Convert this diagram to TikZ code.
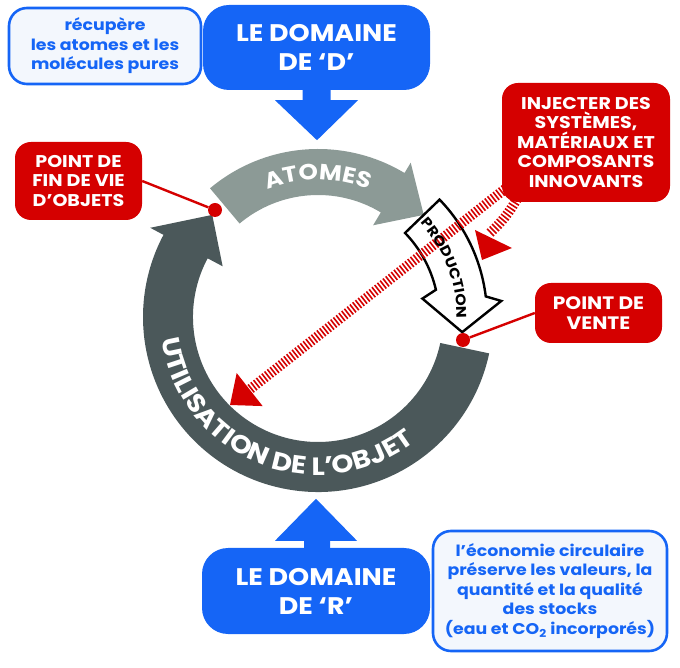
\documentclass[tikz,border=0pt]{standalone}
\usepackage{fontspec}
\setmainfont{Poppins}[FakeStretch=1.12]
\usetikzlibrary{arrows.meta,decorations.text}
\definecolor{domblue}{RGB}{21,101,246}
\definecolor{notefill}{RGB}{243,247,253}
\definecolor{injred}{RGB}{213,0,0}
\definecolor{ringlight}{RGB}{140,154,150}
\definecolor{ringdark}{RGB}{75,88,90}

\begin{document}
\begin{tikzpicture}[x=1pt, y=1pt,
  bluebox/.style={fill=domblue, rounded corners=26pt, align=center, text=white, font=\fontsize{24}{29}\selectfont\bfseries, inner sep=0pt},
  notebox/.style={draw=domblue, line width=2.6pt, fill=notefill, rounded corners=18pt, align=center, text=domblue, font=\fontsize{15.5}{19.5}\selectfont\bfseries, inner sep=0pt},
  redbox/.style={fill=injred, rounded corners=16pt, align=center, text=white, font=\fontsize{17}{19.5}\selectfont\bfseries, inner sep=0pt},
  reddot/.style={circle, fill=injred, minimum size=14pt, inner sep=0pt},
  redlink/.style={draw=injred, line width=2.4pt},
  hatch/.style={draw=injred, line width=10pt, dash pattern=on 1.6pt off 1.9pt},
  ringtext/.style={decorate, decoration={text along path, text align=center, text={#1}}}]

\useasboundingbox (0,0) rectangle (680,667);
\coordinate (C) at (318,350);

% the cycle
\begin{scope}[shift={(C)}]
\fill[ringdark] (-12:175) arc[start angle=-12, end angle=-208, radius=175]
  -- (-208:190) -- (-224:147) -- (-208:108) -- (-208:125)
  arc[start angle=-208, end angle=-12, radius=125] -- cycle;
\fill[ringlight] (130:168) arc[start angle=130, end angle=59, radius=168]
  -- (59:180) -- (44:147) -- (59:107) -- (59:122)
  arc[start angle=59, end angle=130, radius=122] -- cycle;
\filldraw[fill=white, draw=black, line width=2.4pt] (44:169) arc[start angle=44, end angle=7, radius=169]
  -- (5:184) -- (-6:145) -- (10:106) -- (13:121)
  arc[start angle=13, end angle=44, radius=121] -- cycle;
\path[ringtext={|\fontsize{22}{22}\selectfont\bfseries\color{white}|ATOMES}] (130:137) arc[start angle=130, end angle=50, radius=137];
\path[ringtext={|\fontsize{25}{25}\selectfont\bfseries\color{white}|UTILISATION DE L'OBJET}] (150:158) arc[start angle=150, end angle=346, radius=158];
\end{scope}

% boxes
\node[notebox, minimum width=192pt, minimum height=76pt] (recup) at (105,621) {récupère\\les atomes et les\\molécules pures};
\node[bluebox, minimum width=227pt, minimum height=85pt] (domD) at (316.5,619.5) {LE DOMAINE\\DE ‘D’};
\node[bluebox, minimum width=228pt, minimum height=86pt] (domR) at (316,76) {LE DOMAINE\\DE ‘R’};
\node[notebox, minimum width=234pt, minimum height=120pt] (eco) at (550,76) {l’économie circulaire\\préserve les valeurs, la\\quantité et la qualité\\des stocks\\(eau et CO\textsubscript{2} incorporés)};
\node[redbox, minimum width=127pt, minimum height=60pt, font=\fontsize{18}{19.5}\selectfont\bfseries] (vente) at (598.5,354) {POINT DE\\VENTE};
\node[redbox, minimum width=127pt, minimum height=78pt] (finvie) at (78.5,486) {POINT DE\\FIN DE VIE\\D’OBJETS};

% domain arrows
\fill[domblue] ([xshift=-14pt,yshift=1pt]domD.south) -- ++(0,-11) -- ++(-27.5,0) -- ++(42,-40) -- ++(41,40) -- ++(-27.5,0) -- ++(0,11) -- cycle;
\fill[domblue] ([xshift=-12pt,yshift=-1pt]domR.north) -- ++(0,8) -- ++(-29,0) -- ++(41,42) -- ++(41,-42) -- ++(-27,0) -- ++(0,-8) -- cycle;

% hatched injections
\coordinate (injA) at (505,478);
\coordinate (tipA) at (230,262);
\coordinate (injB) at (517,468);
\coordinate (tipB) at (490,434);
\draw[hatch, -{Triangle[length=25pt,width=42pt,line width=0pt]}] (injA) -- (tipA);
\draw[hatch] (injB) to[bend left=8] (tipB);
\fill[injred] (475,437) -- (482,407) -- (512,419) -- cycle;
\node[redbox, minimum width=168pt, minimum height=119pt] (inject) at (586,524.5) {INJECTER DES\\SYSTÈMES,\\MATÉRIAUX ET\\COMPOSANTS\\INNOVANTS};

\path[ringtext={|\fontsize{14}{14}\selectfont\bfseries|PRODUCTION}] ([shift={(45:139)}]C) arc[start angle=45, end angle=-3, radius=139];

% sale and end-of-life points
\node[reddot] (dotfin) at (215,457) {};
\node[reddot] (dotvente) at (463,327) {};
\draw[redlink] (finvie.east) -- (dotfin);
\draw[redlink] (vente.west) -- (dotvente);
\end{tikzpicture}
\end{document}
